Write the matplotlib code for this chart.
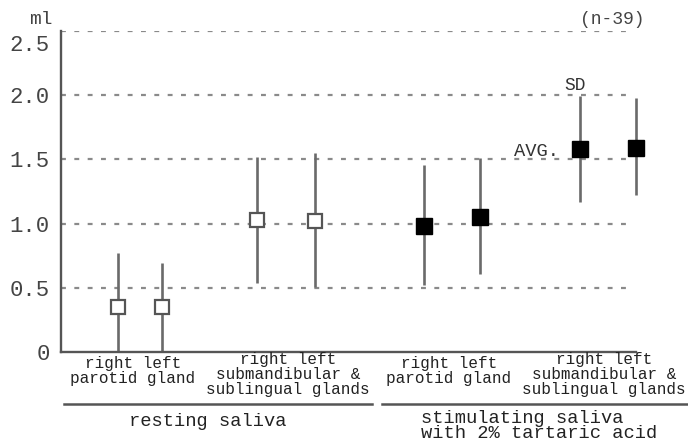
import matplotlib.pyplot as plt
from matplotlib.lines import Line2D
from matplotlib.transforms import ScaledTranslation

plt.rcParams['font.family'] = ['Liberation Mono', 'DejaVu Sans Mono']

# valores (ml)
means = [0.35, 0.35, 1.03, 1.02, 0.98, 1.05, 1.58, 1.59]
sd_low = [0.0, 0.0, 0.54, 0.51, 0.52, 0.61, 1.17, 1.22]
sd_high = [0.77, 0.69, 1.52, 1.55, 1.46, 1.51, 1.99, 1.98]
filled = [False, False, False, False, True, True, True, True]

yticks = [0, 0.5, 1.0, 1.5, 2.0, 2.5]
ytick_labels = ['0', '0.5', '1.0', '1.5', '2.0', '2.5']
cat_labels = ['right left\nparotid gland',
              'right left\nsubmandibular &\nsublingual glands',
              'right left\nparotid gland',
              'right left\nsubmandibular &\nsublingual glands']
group_labels = ['resting saliva', 'stimulating saliva\nwith 2% tartaric acid']

# posições no eixo x (layout)
xpos = [0.99, 1.76, 3.41, 4.42, 6.31, 7.29, 9.03, 10.0]

W, H = 688, 445
fig = plt.figure(figsize=(W / 100, H / 100), dpi=100)
ax = fig.add_axes([61 / W, 1 - 352 / H, (636 - 61) / W, (352 - 31) / H])
ax.set_xlim(0, 10)
ax.set_ylim(0, 2.5)

def fx(px):
    return px / W

def fy(py):
    return 1 - py / H

# grade pontilhada
for y in yticks[1:]:
    ax.hlines(y, 0, 9.86, colors='#8a8a8a', linewidth=1.6,
              linestyles=(0, (2.2, 3.8)), zorder=1)

# barras de desvio padrão e médias
for x, m, lo, hi, f in zip(xpos, means, sd_low, sd_high, filled):
    ax.vlines(x, lo, hi, colors='#6a6a6a', linewidth=1.9, zorder=2, clip_on=False)
    if f:
        ax.plot(x, m, 's', ms=11, mfc='black', mec='black', zorder=3, clip_on=False)
    else:
        ax.plot(x, m, 's', ms=10, mfc='white', mec='#555555', mew=1.6,
                zorder=3, clip_on=False)

for s in ['top', 'right']:
    ax.spines[s].set_visible(False)
for s in ['left', 'bottom']:
    ax.spines[s].set_linewidth(1.7)
    ax.spines[s].set_color('#555555')

ax.set_xticks([])
ax.set_yticks(yticks)
ax.set_yticklabels(ytick_labels, fontsize=16, color='#444444')
ax.tick_params(axis='y', length=0, pad=8)
# o rótulo 2.5 fica um pouco abaixo da linha
top_lab = ax.get_yticklabels()[-1]
top_lab.set_transform(top_lab.get_transform() +
                      ScaledTranslation(0, -12 / 100, fig.dpi_scale_trans))

fig.text(fx(41), fy(20), 'ml', fontsize=14, color='#444444', ha='center', va='center')
fig.text(fx(612), fy(20), '(n-39)', fontsize=13, color='#444444', ha='center', va='center')
fig.text(fx(575), fy(86), 'SD', fontsize=13, color='#333333', ha='center', va='center')
fig.text(fx(536), fy(152), 'AVG.', fontsize=13.5, color='#333333', ha='center', va='center')

# rótulos das categorias
cat_x = [133, 288, 449, 604]
cat_top = [356, 352, 356, 352]
for cx, ct, lab in zip(cat_x, cat_top, cat_labels):
    fig.text(fx(cx), fy(ct), lab, fontsize=11.5, color='#222222', ha='center',
             va='top', linespacing=1.0)

# linhas de grupo
fig.add_artist(Line2D([fx(64), fx(372)], [fy(404), fy(404)], color='#555555', lw=1.8))
fig.add_artist(Line2D([fx(382), fx(688)], [fy(404), fy(404)], color='#555555', lw=1.8))

fig.text(fx(208), fy(422), group_labels[0], fontsize=13.5, color='#222222',
         ha='center', va='center')
fig.text(fx(421), fy(426), group_labels[1], fontsize=13.5, color='#222222',
         ha='left', va='center', linespacing=0.9)

fig.savefig('out.png', dpi=100)
